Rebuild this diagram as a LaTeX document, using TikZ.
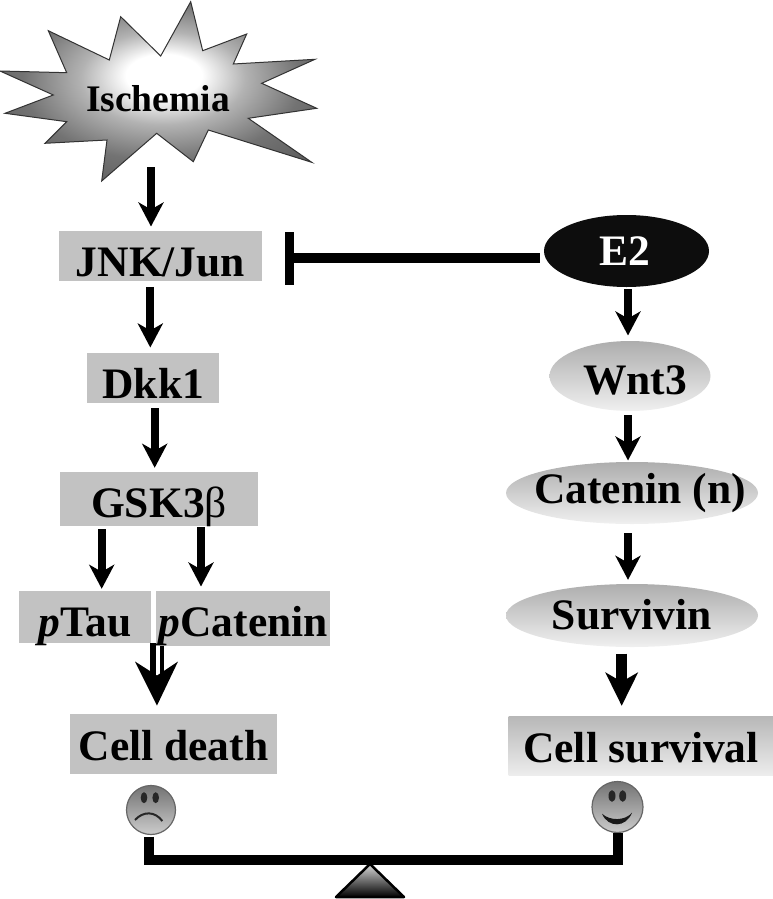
\documentclass[tikz,border=0pt]{standalone}
\usepackage{fontspec}
\setmainfont{Liberation Serif}
\usetikzlibrary{arrows.meta,shapes.geometric}
\definecolor{boxgrey}{HTML}{C2C2C2}
\definecolor{stargrey}{HTML}{4A4A4A}
\pgfdeclareradialshading{starglow}{\pgfpoint{1bp}{5bp}}{
  color(0bp)=(white); color(6bp)=(white); color(13bp)=(black!30);
  color(22bp)=(black!55); color(34bp)=(black!66); color(50bp)=(stargrey)}

\begin{document}
\begin{tikzpicture}[
  x=1pt,
  y=-1pt,
  line join=miter,
  tag/.style={font=\fontsize{43.5}{44}\bfseries,text=black,inner sep=0pt,text depth=0pt},
  greybox/.style={tag,fill=boxgrey,minimum width=#1},
  fadebox/.style={tag,top color=black!28,bottom color=black!7,minimum width=#1},
  fadeoval/.style={ellipse,inner sep=0pt,draw=none,top color=black!32,bottom color=black!6},
  pathway/.style={draw=black,line width=8pt,-{Stealth[length=24pt,width=25pt,inset=7pt]}},
  bigpathway/.style={draw=black,line width=11pt,-{Stealth[length=33pt,width=32pt,inset=9pt]}},
  blocked/.style={draw=black,line width=10pt,-{Rectangle[length=8.5pt,width=53pt]}},
  beam/.style={draw=black,line width=10pt},
  face/.style={circle,inner sep=0pt,minimum size=#1,draw=black!60,line width=1.2pt,top color=black!55,bottom color=black!20},
]
  \useasboundingbox (0,0) rectangle (773,899);

  % Burst behind the first label.
  \shade[shading=starglow,draw=black!80,line width=1pt]
    (190.7,1.7) -- (202.7,50.7) -- (246.7,34) -- (233.3,64) -- (315,59.3) -- (261.7,83.3)
    -- (316.7,108.3) -- (248.3,118.3) -- (311.7,162.3) -- (208.3,130) -- (193.3,161.7)
    -- (156.7,133.3) -- (101.7,181) -- (107,140) -- (45,143.3) -- (66.7,121.7) -- (5,113.3)
    -- (53.3,95) -- (0,71) -- (66.7,72.7) -- (48.3,30.7) -- (109.3,60) -- (120.7,16.7)
    -- (160.7,56) -- cycle;
  \node[tag,font=\fontsize{37.5}{38}\bfseries,anchor=base] (ischemia) at (158,111) {Ischemia};

  % Left column.
  \node[greybox=203pt,minimum height=50pt,text height=40pt] (jnk) at (160.5,256) {JNK/Jun};
  \node[greybox=132pt,minimum height=50pt,text height=40pt] (dkk) at (153.3,378.3) {Dkk1};
  \node[greybox=198pt,minimum height=54pt,text height=36pt] (gsk) at (159,499) {GSK3\textmd{β}};
  \node[greybox=132pt,minimum height=52pt,text height=38pt] (ptau) at (85,617) {\textit{p}Tau};
  \node[greybox=174.5pt,minimum height=55pt,text height=36pt] (pcat) at (243.2,618) {\textit{p}Catenin};
  \node[greybox=207pt,minimum height=60pt,text height=32pt] (death) at (173.5,744) {Cell death};

  % Right column.
  \node[ellipse,fill=black!95,minimum width=165pt,minimum height=72pt,inner sep=0pt] (e2) at (626.5,251) {};
  \node[tag,text=white,anchor=base] (e2text) at (625,265) {E2};
  \node[fadeoval,minimum width=161pt,minimum height=70pt] (wnt) at (630,376) {};
  \node[tag,anchor=base] (wnttext) at (635,394.3) {Wnt3};
  \node[fadeoval,minimum width=252pt,minimum height=62pt] (catn) at (632,493) {};
  \node[tag,anchor=base] (catntext) at (640,503) {Catenin (n)};
  \node[fadeoval,minimum width=252pt,minimum height=63pt] (surv) at (632,615.5) {};
  \node[tag,anchor=base] (survtext) at (631.7,629.3) {Survivin};
  \node[fadebox=265pt,minimum height=59pt,text height=32pt] (alive) at (641,746) {Cell survival};

  % Left arrows.
  \draw[pathway] ([xshift=-7pt,yshift=-56pt]ischemia.south) -- ([xshift=-9.5pt,yshift=4.3pt]jnk.north);
  \draw[pathway] ([xshift=-10.2pt,yshift=-5.7pt]jnk.south) -- ([xshift=-3pt,yshift=5.6pt]dkk.north);
  \draw[pathway] ([xshift=1.4pt,yshift=-4.7pt]dkk.south) -- ([xshift=-4.3pt,yshift=4pt]gsk.north);
  \draw[pathway] ([xshift=-57.3pt,yshift=-3pt]gsk.south) -- ([xshift=16.7pt,yshift=2pt]ptau.north);
  \draw[pathway] ([xshift=42pt,yshift=-1pt]gsk.south) -- ([xshift=-42.2pt,yshift=3.8pt]pcat.north);

  % Two shafts share one large head.
  \coordinate (deathtip) at ([xshift=-16.5pt,yshift=8.3pt]death.north);
  \coordinate (tauend) at ([xshift=-20.5pt,yshift=38pt]death.north);
  \coordinate (catend) at ([xshift=-11.5pt,yshift=38pt]death.north);
  \draw[draw=black,line width=6pt] ([xshift=68pt]ptau.south) -- (tauend);
  \draw[draw=black,line width=4.3pt] ([xshift=-81.2pt]pcat.south) -- (catend);
  \fill[black] (deathtip) -- ++(-22,-44) -- ++(22,14) -- ++(21,-14) -- cycle;

  % Right arrows.
  \draw[pathway] ([xshift=1.5pt,yshift=-2pt]e2.south) -- ([xshift=-2pt,yshift=5.3pt]wnt.north);
  \draw[pathway] ([xshift=-2pt,yshift=-4pt]wnt.south) -- ([xshift=-4pt,yshift=1.3pt]catn.north);
  \draw[pathway] ([xshift=-4pt,yshift=-9pt]catn.south) -- ([xshift=-4pt,yshift=4pt]surv.north);
  \draw[bigpathway] ([xshift=-10.3pt,yshift=-6.3pt]surv.south) -- ([xshift=-19.3pt,yshift=10.5pt]alive.north);
  \draw[blocked] ([xshift=-4pt,yshift=-7pt]e2.west) -- ([xshift=23pt,yshift=-2pt]jnk.east);

  % Balance under the two outcomes.
  \node[face=49pt] (sad) at (151,810) {};
  \node[face=51pt] (happy) at (617.5,807) {};
  \fill[black!85] (144,797.7) ellipse[x radius=3.3,y radius=5.5] (155.7,797.7) ellipse[x radius=3.3,y radius=5.5];
  \fill[black!85] (612,796) ellipse[x radius=3.5,y radius=5.8] (622.7,796) ellipse[x radius=3.5,y radius=5.8];
  \draw[black!85,line width=2pt] (135,820) .. controls (143,811) and (155,811) .. (162.3,821);
  \fill[black!90] (602,813.7) .. controls (610,821) and (625,821) .. (632,812.7)
    .. controls (626,828) and (608,828) .. cycle;

  \coordinate (fulcrum) at (370,859.5);
  \shade[top color=black!15,bottom color=black,draw=black,line width=2.5pt,line join=round]
    (370,864) -- (404,897) -- (336,897) -- cycle;
  \draw[beam] ([xshift=-2pt,yshift=-1.5pt]sad.south) |- (fulcrum) -| (happy.south);
\end{tikzpicture}
\end{document}
